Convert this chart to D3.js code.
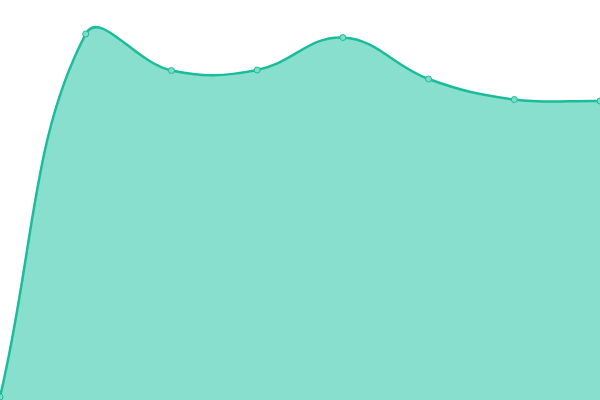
<!DOCTYPE html>
<html><head><meta charset="utf-8">
<script src="https://cdn.jsdelivr.net/npm/d3@7"></script>
<style>html,body{margin:0;padding:0;background:#fff;}svg{display:block;}</style>
</head><body>
<svg id="chart" width="600" height="400"></svg>
<script>
const categories = ["A","B","C","D","E","F","G","H"];
const values = [3, 366, 329.5, 330, 362.5, 321, 300.5, 299];

const W = 600, H = 400;
const TENSION = 0.4;

// Custom D3 curve: distance-weighted spline (tension 0.4), control points capped to the plot area
function SplineCurve(context) { this._context = context; }
SplineCurve.prototype = {
  areaStart() { this._line = 0; },
  areaEnd() { this._line = NaN; },
  lineStart() { this._pts = []; },
  lineEnd() {
    const p = this._pts, n = p.length, ctx = this._context;
    if (n) {
      if (this._line) ctx.lineTo(p[0][0], p[0][1]); else ctx.moveTo(p[0][0], p[0][1]);
      const cap = (q) => [Math.max(0, Math.min(W, q[0])), Math.max(0, Math.min(H, q[1]))];
      const cps = p.map((cur, i) => {
        const prev = p[Math.max(0, i - 1)], next = p[Math.min(n - 1, i + 1)];
        const d01 = Math.hypot(cur[0] - prev[0], cur[1] - prev[1]);
        const d12 = Math.hypot(next[0] - cur[0], next[1] - cur[1]);
        let s01 = d01 / (d01 + d12), s12 = d12 / (d01 + d12);
        if (isNaN(s01)) s01 = 0;
        if (isNaN(s12)) s12 = 0;
        const fa = TENSION * s01, fb = TENSION * s12;
        return {
          prev: cap([cur[0] - fa * (next[0] - prev[0]), cur[1] - fa * (next[1] - prev[1])]),
          next: cap([cur[0] + fb * (next[0] - prev[0]), cur[1] + fb * (next[1] - prev[1])])
        };
      });
      for (let i = 0; i < n - 1; i++) {
        const a = cps[i].next, b = cps[i + 1].prev;
        ctx.bezierCurveTo(a[0], a[1], b[0], b[1], p[i + 1][0], p[i + 1][1]);
      }
    }
    if (this._line || (this._line !== 0 && n === 1)) ctx.closePath();
    this._line = 1 - this._line;
  },
  point(x, y) { this._pts.push([+x, +y]); }
};
const splineCurve = ctx => new SplineCurve(ctx);

const svg = d3.select("#chart");
const x = d3.scalePoint().domain(categories).range([0, W]);
const y = d3.scaleLinear().domain([0, 400]).range([H, 0]);
const data = categories.map((c, i) => ({c, v: values[i]}));

const lineGen = d3.line().x(d => x(d.c)).y(d => y(d.v)).curve(splineCurve);
const topPath = lineGen(data);
const areaPath = topPath + "L" + x(categories[categories.length - 1]) + "," + y(0) +
  "L" + x(categories[0]) + "," + y(0) + "Z";

svg.append("path").attr("d", areaPath).attr("fill", "#89dfce");
svg.append("path").attr("d", topPath)
  .attr("fill", "none").attr("stroke", "#1abc9c").attr("stroke-width", 2.5);
svg.selectAll("circle").data(data).join("circle")
  .attr("cx", d => x(d.c)).attr("cy", d => y(d.v)).attr("r", 3)
  .attr("fill", "#7fdcc8").attr("stroke", "#1abc9c").attr("stroke-width", 1);
</script>
</body></html>
